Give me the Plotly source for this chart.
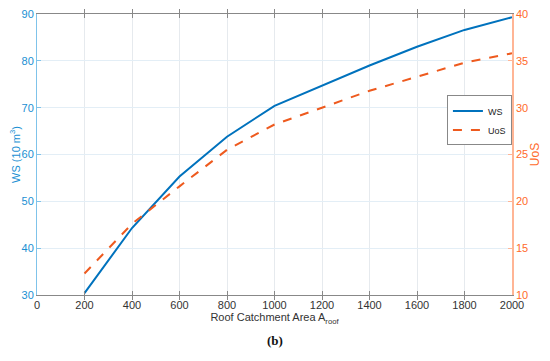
import plotly.graph_objects as go

area = [200, 400, 600, 800, 1000, 1200, 1400, 1600, 1800, 2000]
ws = [30.4, 44.3, 55.3, 63.8, 70.4, 74.7, 79.0, 83.0, 86.6, 89.3]
uos = [12.3, 17.6, 21.6, 25.5, 28.2, 30.0, 31.8, 33.3, 34.8, 35.8]

x_ticks = list(range(0, 2001, 200))
ws_ticks = list(range(30, 91, 10))
uos_ticks = list(range(10, 41, 5))

blue = "#0072BD"
orange = "#EE5A1E"
blue_txt = "#1A8FD3"
orange_txt = "#FF6A2A"
font = "Liberation Sans, Arial, sans-serif"

top, bottom = 14, 295.3
fig = go.Figure()
fig.add_trace(go.Scatter(x=area, y=ws, name="WS", mode="lines",
                         line=dict(color=blue, width=2), yaxis="y"))
fig.add_trace(go.Scatter(x=area, y=uos, name="UoS", mode="lines",
                         line=dict(color=orange, width=2, dash="dash"), yaxis="y2"))

fig.update_layout(
    width=542, height=353,
    margin=dict(l=29, r=38, t=6, b=66, autoexpand=False),
    paper_bgcolor="white", plot_bgcolor="white",
    font=dict(family=font, size=11, color="#333"),
    showlegend=True,
    legend=dict(x=0.863, y=0.71, xanchor="left", yanchor="top",
                bgcolor="white", bordercolor="#888", borderwidth=1,
                font=dict(size=9, color="#222"), tracegroupgap=0,
                itemwidth=30),
    xaxis=dict(range=[0, 2000], tickvals=x_ticks, showgrid=True, automargin=False,
               gridcolor="#E6EAEE", gridwidth=1, zeroline=False,
               showline=True, linecolor="#888", linewidth=1, mirror="allticks",
               ticks="inside", ticklen=4, tickcolor="#888",
               ticklabeloverflow="allow",
               tickfont=dict(size=11, color="#333"),
               title=dict(text="Roof Catchment Area A<sub>roof</sub>",
                          font=dict(size=11, color="#333"), standoff=3)),
    yaxis=dict(range=[30, 90], tickvals=ws_ticks, showgrid=True, automargin=False,
               gridcolor="#E3EEF6", zeroline=False, showline=True,
               linecolor="#7FC3EA", linewidth=1, ticks="inside", ticklen=4,
               ticklabeloverflow="allow",
               tickcolor="#7FC3EA", tickfont=dict(size=11, color=blue_txt),
               title=dict(text="WS (10 m<sup>3</sup>)",
                          font=dict(size=11, color=blue_txt), standoff=2)),
    yaxis2=dict(range=[10, 40], tickvals=uos_ticks, overlaying="y", side="right",
                automargin=False, ticklabeloverflow="allow",
                showgrid=False, zeroline=False, showline=True,
                linecolor="#FFB595", linewidth=1.5, ticks="inside", ticklen=4,
                tickcolor="#FFB595", tickfont=dict(size=11, color=orange_txt),
                title=dict(text="UoS", font=dict(size=12, color=orange_txt),
                           standoff=2)),
    annotations=[dict(text="<b>(b)</b>", x=0.5, xref="paper",
                      y=-(341 - bottom) / (bottom - top), yref="paper",
                      yanchor="middle", showarrow=False,
                      font=dict(family="Liberation Serif, Times New Roman, serif",
                                size=13, color="#111"))],
)

fig.write_html("out.html")
